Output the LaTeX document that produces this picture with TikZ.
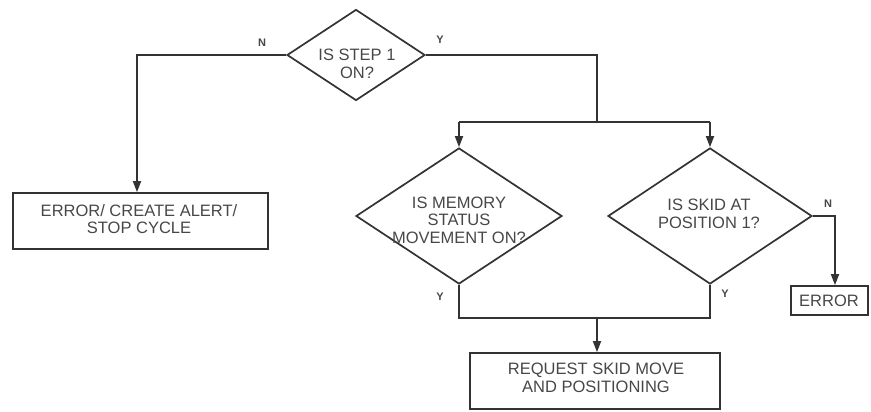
\documentclass[tikz,border=0pt]{standalone}
\usepackage{fontspec}
\setmainfont{Liberation Sans}
\usetikzlibrary{shapes.geometric,arrows.meta}
\begin{document}
\begin{tikzpicture}[x=1pt,y=-1pt,
  line/.style={draw=black!80,line width=1.7pt},
  arr/.style={line,-{Triangle[length=11pt,width=8pt]}},
  dia/.style={diamond,draw=black!80,line width=1.7pt,inner sep=0pt},
  boxn/.style={rectangle,draw=black!80,line width=1.7pt,inner sep=0pt},
  txt/.style={font=\fontsize{16.5}{17.5}\selectfont,text=black!72,align=center,inner sep=0pt},
  lbl/.style={font=\fontsize{11}{12}\selectfont\bfseries,text=black!72,inner sep=0pt}]
\useasboundingbox (0,0) rectangle (871,412);
% decisions
\node[dia,minimum width=138pt,minimum height=91pt] (d1) at (356,55) {};
\node[txt] (t1) at (357,64) {IS STEP 1\\ON?};
\node[dia,minimum width=206pt,minimum height=136pt] (d2) at (459,216) {};
\node[txt] (t2) at (459,220) {IS MEMORY\\STATUS\\MOVEMENT ON?};
\node[dia,minimum width=204pt,minimum height=136pt] (d3) at (710,216) {};
\node[txt] (t3) at (709,214) {IS SKID AT\\POSITION 1?};
% boxes
\node[boxn,minimum width=255pt,minimum height=56pt] (b1) at (140.5,221) {};
\node[txt] (bt1) at (139,219) {ERROR/ CREATE ALERT/\\STOP CYCLE};
\node[boxn,minimum width=250pt,minimum height=56pt] (b2) at (595,381) {};
\node[txt] (bt2) at (596,378) {REQUEST SKID MOVE\\AND POSITIONING};
\node[boxn,minimum width=77pt,minimum height=29pt] (b3) at (829.5,300.5) {};
\node[txt] (bt3) at (829,300.5) {ERROR};
% coordinates
\coordinate (nl) at (137,55);
\coordinate (yr) at (597,55);
\coordinate (yj) at (597,122);
\coordinate (jl) at (459,122);
\coordinate (jr) at (710,122);
\coordinate (bl) at (459,318);
\coordinate (br) at (710,318);
\coordinate (bm) at (597,318);
\coordinate (nr) at (835,216);
% connectors
\draw[arr] (d1.west) -- (nl) -- (nl |- b1.north);
\draw[line] (d1.east) -- (yr) -- (yj);
\draw[line] (jl) -- (jr);
\draw[arr] (jl) -- (d2.north);
\draw[arr] (jr) -- (d3.north);
\draw[line] (d2.south) -- (bl) -- (br) -- (d3.south);
\draw[arr] (bm) -- (bm |- b2.north);
\draw[arr] (d3.east) -- (nr) -- (nr |- b3.north);
% labels
\node[lbl] (ln1) at (262,43) {N};
\node[lbl] (ly1) at (440,40) {Y};
\node[lbl] (ly2) at (440,297) {Y};
\node[lbl] (ly3) at (725,294) {Y};
\node[lbl] (ln2) at (828,204) {N};
\end{tikzpicture}
\end{document}
